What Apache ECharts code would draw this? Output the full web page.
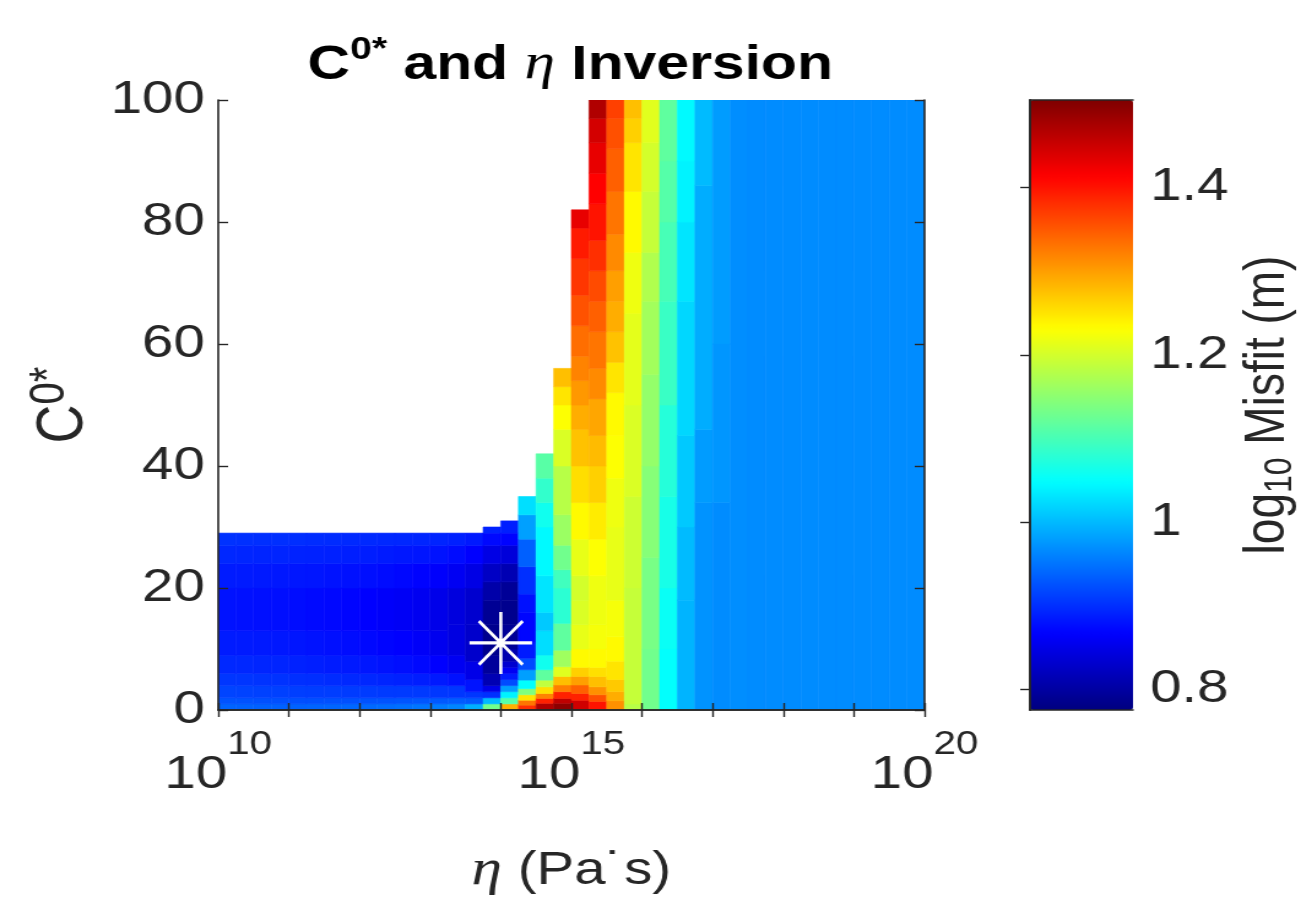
<!DOCTYPE html>
<html>
<head>
<meta charset="utf-8">
<script src="https://cdn.jsdelivr.net/npm/echarts@6.0.0/dist/echarts.min.js"></script>
<style>
html, body { margin: 0; padding: 0; background: #fff; overflow: hidden; }
/* the figure is drawn a bit narrower and stretched sideways, like the original export */
#chart { width: 1070px; height: 905px; transform: scaleX(1.2262); transform-origin: 0 0; }
</style>
</head>
<body>
<div id="chart"></div>
<script>
//----- data

// log10(eta) edges of the 40 columns
var etaExp = [10, 10.25, 10.5, 10.75, 11, 11.25, 11.5, 11.75, 12, 12.25, 12.5, 12.75,
  13, 13.25, 13.5, 13.75, 14, 14.25, 14.5, 14.75, 15, 15.25, 15.5, 15.75, 16, 16.25,
  16.5, 16.75, 17, 17.25, 17.5, 17.75, 18, 18.25, 18.5, 18.75, 19, 19.25, 19.5, 19.75, 20];

// highest C0* with a result in each column (white above)
var colTop = [29, 29, 29, 29, 29, 29, 29, 29, 29, 29, 29, 29, 29, 29, 29,
  30, 31, 35, 42, 56, 82, 100, 100, 100, 100, 100, 100, 100, 100, 100,
  100, 100, 100, 100, 100, 100, 100, 100, 100, 100];

// misfit per column: [C0* where the band starts, log10 misfit]
var misfit = [
  [[0,0.938],[1,0.926],[2,0.915],[4,0.905],[6,0.895],[9,0.886],[13,0.879],[20,0.886],[24,0.894],[27,0.902]],
  [[0,0.937],[1,0.925],[2,0.914],[4,0.904],[6,0.894],[9,0.885],[13,0.878],[20,0.885],[24,0.893],[27,0.901]],
  [[0,0.936],[1,0.924],[2,0.913],[4,0.903],[6,0.893],[9,0.884],[13,0.877],[20,0.884],[24,0.892],[27,0.900]],
  [[0,0.936],[1,0.923],[2,0.912],[4,0.902],[6,0.892],[9,0.883],[13,0.876],[20,0.883],[24,0.892],[27,0.900]],
  [[0,0.937],[1,0.923],[2,0.911],[4,0.900],[6,0.890],[9,0.881],[13,0.875],[20,0.882],[24,0.891],[27,0.899]],
  [[0,0.938],[1,0.923],[2,0.910],[4,0.899],[6,0.888],[9,0.879],[13,0.873],[20,0.881],[24,0.890],[27,0.898]],
  [[0,0.939],[1,0.924],[2,0.910],[4,0.897],[6,0.886],[9,0.877],[13,0.871],[20,0.879],[24,0.889],[27,0.897]],
  [[0,0.940],[1,0.924],[2,0.909],[4,0.895],[6,0.884],[9,0.875],[13,0.869],[20,0.878],[24,0.888],[27,0.896]],
  [[0,0.942],[1,0.925],[2,0.909],[4,0.894],[6,0.882],[9,0.872],[13,0.866],[20,0.876],[24,0.887],[27,0.896]],
  [[0,0.944],[1,0.926],[2,0.908],[4,0.892],[6,0.879],[9,0.869],[13,0.863],[20,0.874],[24,0.885],[27,0.895]],
  [[0,0.947],[1,0.927],[2,0.908],[4,0.890],[6,0.876],[9,0.866],[13,0.860],[20,0.871],[24,0.883],[27,0.894]],
  [[0,0.950],[1,0.928],[2,0.907],[4,0.887],[6,0.872],[9,0.862],[13,0.856],[20,0.868],[24,0.881],[27,0.893]],
  [[0,0.955],[1,0.930],[2,0.906],[4,0.884],[6,0.866],[9,0.855],[13,0.851],[20,0.864],[24,0.879],[27,0.892]],
  [[0,0.962],[1,0.932],[2,0.905],[4,0.878],[6,0.857],[9,0.845],[14,0.843],[20,0.858],[24,0.874],[27,0.889]],
  [[0,0.992],[1,0.930],[2,0.905],[3,0.880],[5,0.850],[8,0.830],[14,0.832],[20,0.848],[24,0.866],[27,0.884]],
  [[0,1.13],[1,1.0],[2,0.9],[3,0.85],[4,0.812],[6,0.795],[9,0.785],[14,0.79],[18,0.805],[21,0.825],[24,0.848],[27,0.872],[29,0.89]],
  [[0,1.288],[1,1.11],[2,1.04],[3,0.98],[4,0.92],[5,0.885],[6,0.858],[7,0.833],[8,0.81],[10,0.792],[14,0.786],[18,0.792],[21,0.812],[24,0.84],[27,0.868],[29,0.888]],
  [[0,1.38],[0.8,1.33],[1.6,1.25],[2.5,1.14],[3.5,1.05],[4.9,0.98],[6.6,0.92],[8.5,0.885],[11,0.87],[16,0.878],[19,0.9],[23.5,0.935],[28,0.981],[32,1.026]],
  [[0,1.47],[1.1,1.39],[1.9,1.32],[2.7,1.253],[3.8,1.186],[4.9,1.117],[6.6,1.06],[9,1.025],[13,1.01],[16,1.03],[22,1.045],[30,1.06],[34,1.085],[38,1.112]],
  [[0,1.495],[1.1,1.46],[1.9,1.39],[3,1.323],[4.1,1.277],[5.5,1.209],[7.1,1.163],[9.8,1.117],[14.2,1.08],[20,1.095],[23,1.13],[27,1.16],[32,1.18],[40,1.205],[46,1.23],[50,1.25],[53,1.277]],
  [[0,1.447],[1.6,1.39],[2.7,1.345],[4.1,1.3],[5.5,1.265],[7,1.235],[10,1.215],[14,1.205],[18,1.2],[22,1.215],[28,1.235],[34,1.255],[40,1.275],[46,1.29],[50,1.305],[54,1.32],[58,1.335],[63,1.355],[68,1.375],[74,1.395],[79,1.43]],
  [[0,1.4],[1.4,1.356],[2.5,1.31],[3.8,1.277],[5.5,1.253],[7,1.235],[10,1.225],[14,1.22],[22,1.23],[28,1.245],[34,1.265],[40,1.28],[45,1.295],[51,1.315],[56,1.33],[62,1.345],[67,1.36],[72,1.38],[77,1.4],[83,1.414],[88,1.43],[93,1.445],[97,1.47]],
  [[0,1.31],[1.5,1.29],[3,1.27],[5,1.25],[8,1.235],[12,1.225],[18,1.215],[30,1.22],[38,1.23],[45,1.235],[52,1.25],[57,1.275],[62,1.29],[67,1.3],[72,1.315],[78,1.33],[85,1.345],[92,1.356],[97,1.368]],
  [[0,1.18],[1,1.19],[20,1.195],[35,1.205],[50,1.212],[65,1.22],[75,1.235],[85,1.25],[93,1.265],[97,1.277]],
  [[0,1.13],[10,1.135],[25,1.145],[40,1.155],[55,1.165],[67,1.175],[75,1.19],[85,1.2],[93,1.21]],
  [[0,1.05],[10,1.055],[20,1.065],[35,1.075],[50,1.09],[67,1.1],[80,1.11],[90,1.117]],
  [[0,0.995],[18,1.0],[30,1.01],[45,1.02],[67,1.03],[80,1.04],[90,1.045]],
  [[0,0.972],[34,0.978],[46,0.99],[86,1.0]],
  [[0,0.967],[34,0.974],[60,0.978]],
  [[0,0.968]],
  [[0,0.967]], [[0,0.967]], [[0,0.967]], [[0,0.967]], [[0,0.967]],
  [[0,0.967]], [[0,0.967]], [[0,0.967]], [[0,0.967]], [[0,0.967]]
];

// best fit (asterisk)
var bestFit = [[14, 11]];

var cTicks = [0, 20, 40, 60, 80, 100];
var etaLabels = [10, 15, 20];
var misfitTicks = [0.8, 1, 1.2, 1.4];
var misfitRange = [0.775, 1.505];

var jet = ['#00007f', '#0000ff', '#007fff', '#00ffff', '#7fff7f',
           '#ffff00', '#ff7f00', '#ff0000', '#7f0000'];

//----- cells: [eta0, eta1, c0, c1, misfit]
var cells = [];
for (var k = 0; k < misfit.length; k++) {
  var col = misfit[k];
  for (var i = 0; i < col.length; i++) {
    var c1 = i + 1 < col.length ? col[i + 1][0] : colTop[k];
    cells.push([etaExp[k], etaExp[k + 1], col[i][0], c1, col[i][1]]);
  }
}

function renderCell(params, api) {
  var p0 = api.coord([api.value(0), api.value(3)]);
  var p1 = api.coord([api.value(1), api.value(2)]);
  var color = api.visual('color');
  return {
    type: 'rect',
    shape: { x: p0[0], y: p0[1], width: p1[0] - p0[0], height: p1[1] - p0[1] },
    style: { fill: color, stroke: color, lineWidth: 0.6 }
  };
}

var txt = '#262626';
var font = 'Liberation Sans, Arial, Helvetica, sans-serif';
var serif = 'Liberation Serif, Times New Roman, serif';
var axisLine = { show: true, lineStyle: { color: txt, width: 1.6 } };
var ZW = '\u200b'; // spacer token that sets the line height for superscripts

var dom = document.getElementById('chart');
var myChart = echarts.init(dom);

var option = {
  backgroundColor: '#fff',
  animation: false,
  textStyle: { fontFamily: font, color: txt },
  title: {
    text: '{h|' + ZW + '}{b|C}{s|0*}{b| and }{e|η}{b| Inversion}',
    left: 460,
    top: 29,
    textAlign: 'center',
    textStyle: {
      rich: {
        h: { fontSize: 10, lineHeight: 56 },
        b: { fontSize: 48, fontWeight: 'bold', color: '#000', fontFamily: font, lineHeight: 48, verticalAlign: 'bottom' },
        s: { fontSize: 32, fontWeight: 'bold', color: '#000', fontFamily: font, lineHeight: 32, verticalAlign: 'top' },
        e: { fontSize: 50, fontWeight: 'normal', fontStyle: 'italic', color: '#000', fontFamily: serif, lineHeight: 48, verticalAlign: 'bottom' }
      }
    }
  },
  grid: [
    { left: 178, top: 100, width: 576, height: 610, outerBoundsMode: 'none', containLabel: false },
    { left: 840, top: 100, width: 84, height: 610, outerBoundsMode: 'none', containLabel: false }
  ],
  visualMap: {
    type: 'continuous',
    min: misfitRange[0],
    max: misfitRange[1],
    dimension: 4,
    seriesIndex: 0,
    inRange: { color: jet },
    calculable: false,
    hoverLink: false,
    orient: 'vertical',
    left: 840,
    top: 100,
    padding: 0,
    itemWidth: 84,
    itemHeight: 610,
    text: null,
    z: 2
  },
  xAxis: [{
    type: 'value', gridIndex: 0, min: 10, max: 20, interval: 1, position: 'bottom',
    splitLine: { show: false },
    axisLine: axisLine,
    axisTick: { inside: true, length: 7, lineStyle: { color: txt, width: 1.4 } },
    axisLabel: {
      margin: 18,
      formatter: function (v) {
        return etaLabels.indexOf(v) >= 0 ? '{h|' + ZW + '}{b|10}{s|' + v + '}' : '';
      },
      rich: {
        h: { fontSize: 10, lineHeight: 70 },
        b: { fontSize: 46, color: txt, fontFamily: font, lineHeight: 46, verticalAlign: 'bottom' },
        s: { fontSize: 33, color: txt, fontFamily: font, lineHeight: 33, verticalAlign: 'top' }
      }
    },
    name: '{e|η} (Pa˙s)',
    nameLocation: 'middle',
    nameGap: 136,
    nameTextStyle: {
      rich: {
        e: { fontSize: 50, fontStyle: 'italic', color: txt, fontFamily: serif }
      },
      fontSize: 46, color: txt, fontFamily: font
    },
    z: 10
  }, {
    type: 'value', gridIndex: 0, min: 10, max: 20, interval: 1, position: 'top',
    splitLine: { show: false },
    axisLine: axisLine,
    axisTick: { inside: true, length: 7, lineStyle: { color: txt, width: 1.4 } },
    axisLabel: { show: false },
    z: 10
  }, {
    type: 'value', gridIndex: 1, min: 0, max: 1, position: 'bottom',
    splitLine: { show: false }, axisLine: axisLine,
    axisTick: { show: false }, axisLabel: { show: false }, z: 10
  }, {
    type: 'value', gridIndex: 1, min: 0, max: 1, position: 'top',
    splitLine: { show: false }, axisLine: axisLine,
    axisTick: { show: false }, axisLabel: { show: false }, z: 10
  }],
  yAxis: [{
    type: 'value', gridIndex: 0, min: 0, max: 100, interval: 20, position: 'left',
    splitLine: { show: false },
    axisLine: axisLine,
    axisTick: { inside: true, length: 8, lineStyle: { color: txt, width: 1.4 } },
    axisLabel: { fontSize: 46, color: txt, margin: 11 },
    name: '{h|' + ZW + '}{b|C}{s|0*}',
    nameLocation: 'middle',
    nameRotate: 90,
    nameGap: 76,
    nameTextStyle: {
      rich: {
        h: { fontSize: 10, lineHeight: 58 },
        b: { fontSize: 54, color: txt, fontFamily: font, lineHeight: 54, verticalAlign: 'bottom' },
        s: { fontSize: 40, color: txt, fontFamily: font, lineHeight: 40, verticalAlign: 'top' }
      }
    },
    z: 10
  }, {
    type: 'value', gridIndex: 0, min: 0, max: 100, interval: 20, position: 'right',
    splitLine: { show: false },
    axisLine: axisLine,
    axisTick: { inside: true, length: 8, lineStyle: { color: txt, width: 1.4 } },
    axisLabel: { show: false },
    z: 10
  }, {
    type: 'value', gridIndex: 1, min: misfitRange[0], max: misfitRange[1], position: 'left',
    splitLine: { show: false }, axisLine: axisLine,
    axisTick: { show: false }, axisLabel: { show: false }, z: 10
  }, {
    type: 'value', gridIndex: 1, min: misfitRange[0], max: misfitRange[1], position: 'right',
    splitLine: { show: false },
    axisLine: axisLine,
    axisTick: { inside: true, length: 8, customValues: misfitTicks, lineStyle: { color: txt, width: 1.4 } },
    axisLabel: { customValues: misfitTicks, fontSize: 46, color: txt, margin: 14 },
    name: 'log{s|10} Misfit (m)',
    nameLocation: 'middle',
    nameRotate: 90,
    nameGap: 84,
    nameTextStyle: {
      fontSize: 46, color: txt, fontFamily: font,
      rich: { s: { fontSize: 32, color: txt, fontFamily: font, verticalAlign: 'bottom', padding: [20, 0, 0, 0] } }
    },
    z: 10
  }],
  series: [{
    type: 'custom',
    name: 'misfit',
    xAxisIndex: 0,
    yAxisIndex: 0,
    renderItem: renderCell,
    encode: { x: [0, 1], y: [2, 3] },
    data: cells,
    clip: true,
    silent: true
  }, {
    type: 'scatter',
    name: 'best fit',
    xAxisIndex: 0,
    yAxisIndex: 0,
    data: bestFit,
    symbol: 'path://M10,0L10,20M0,10L20,10M3,3L17,17M3,17L17,3',
    symbolSize: [51, 62],
    itemStyle: { color: 'none', borderColor: '#fff', borderWidth: 2.8, opacity: 1 },
    z: 5,
    silent: true
  }]
};

if (option && typeof option === 'object') {
  myChart.setOption(option, true);
}
</script>
</body>
</html>
